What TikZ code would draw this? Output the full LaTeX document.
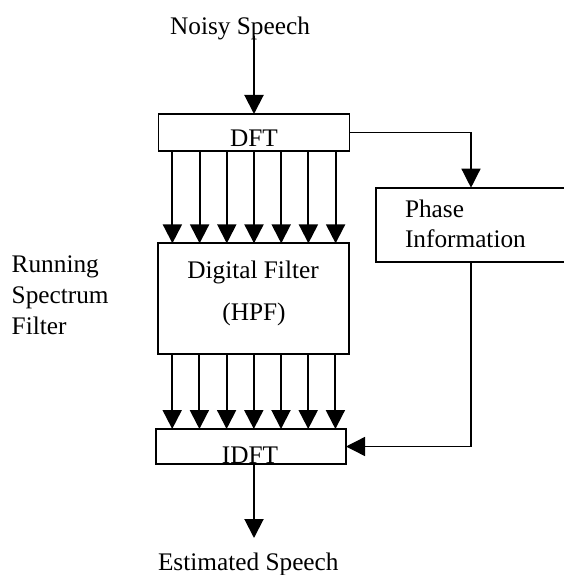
\documentclass[tikz,border=0pt]{standalone}
\usepackage{fontspec}
\setmainfont{Liberation Serif}
\usetikzlibrary{arrows.meta}
\begin{document}
\begin{tikzpicture}[x=1pt,y=-1pt,
  box/.style={draw, line width=1.8pt, inner sep=0pt, outer sep=0pt},
  lbl/.style={inner sep=0pt, outer sep=0pt, font=\fontsize{25.3pt}{30pt}\selectfont},
  head/.style={-{Triangle[length=19pt,width=19pt]}},
  arr/.style={line width=2pt, head},
  link/.style={line width=1.4pt}]
  % page area
  \fill[white] (0,0) rectangle (563,575);
  \useasboundingbox (0,0) rectangle (563,575);

  % blocks
  \node[box, minimum width=191pt, minimum height=36.7pt] (dft) at (254,132.35) {};
  \node[box, minimum width=191pt, minimum height=110.7pt] (df) at (253.8,298.7) {};
  \node[box, minimum width=190pt, minimum height=35pt] (idft) at (251,446.5) {};
  \node[box, minimum width=194.3pt, minimum height=74pt] (phase) at (472.85,224.7) {};

  % block texts
  \node[lbl, anchor=base] (tdft) at (254,146.5) {DFT};
  \node[lbl, anchor=base] (tdf1) at (253,278) {Digital Filter};
  \node[lbl, anchor=base] (tdf2) at (254,320.5) {(HPF)};
  \node[lbl, anchor=base] (tidft) at (250,463) {IDFT};
  \node[lbl, anchor=base west] (tph1) at (405,217.5) {Phase};
  \node[lbl, anchor=base west] (tph2) at (405,247.7) {Information};

  % side caption
  \node[lbl, anchor=base west] (trsf1) at (11.7,272.7) {Running};
  \node[lbl, anchor=base west] (trsf2) at (11.7,303.3) {Spectrum};
  \node[lbl, anchor=base west] (trsf3) at (11.7,334) {Filter};

  % input and output labels
  \node[lbl, anchor=base] (tin) at (240,35) {Noisy Speech};
  \node[lbl, anchor=base] (tout) at (248.3,570.5) {Estimated Speech};

  % helper points
  \coordinate (src) at (254,36);
  \coordinate (pc) at (471,0);
  \coordinate (outx) at (254,0);
  \coordinate (dst) at (254,538);

  % signal path
  \draw[arr] (src) -- (src |- dft.north);
  \foreach \k in {-3,...,3} {
    \coordinate (a\k) at ([xshift={\k*27.2pt}]dft.south);
    \coordinate (b\k) at ([xshift={\k*27.2pt}]df.south);
    \draw[arr] (a\k) -- (a\k |- df.north);
    \draw[arr] (b\k) -- (b\k |- idft.north);
  }
  \draw[arr] (outx |- idft.south) -- (dst);

  % phase branch
  \draw[link, head] (dft.east) -| (pc |- phase.north);
  \draw[link, head] (pc |- phase.south) |- (idft.east);
\end{tikzpicture}
\end{document}
